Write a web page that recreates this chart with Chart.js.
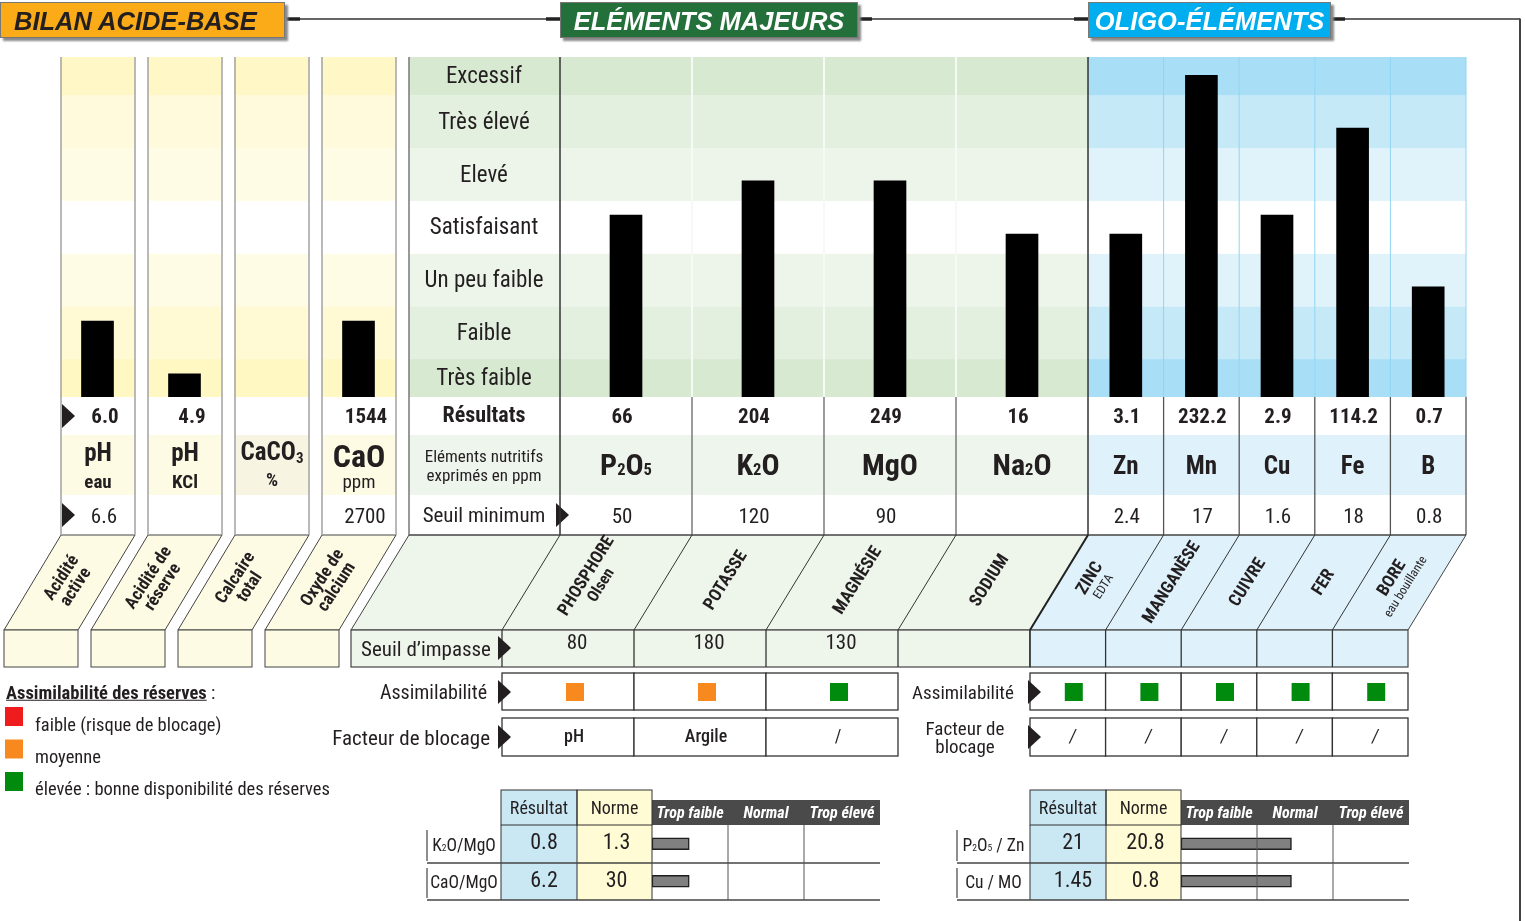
<!DOCTYPE html>
<html><head><meta charset="utf-8">
<script src="https://cdn.jsdelivr.net/npm/chart.js@4.4.1/dist/chart.umd.min.js"></script>
<style>
html,body{margin:0;padding:0;background:#fff}
#wrap{position:relative;width:1525px;height:921px;overflow:hidden;font-family:"Liberation Sans Narrow","Arial Narrow","Roboto Condensed","Liberation Sans",Arial,sans-serif;color:#231f20}
.t{position:absolute;white-space:nowrap;line-height:1;transform:translate(-50%,-50%);text-align:center;z-index:5}
.tl{position:absolute;white-space:nowrap;line-height:1;transform:translate(0,-50%);z-index:5}
.tr{position:absolute;white-space:nowrap;line-height:1;transform:translate(-100%,-50%);z-index:5;text-align:right}
canvas{position:absolute;z-index:2}
svg{position:absolute;left:0;top:0}
.title{position:absolute;height:36px;box-shadow:3px 3px 2px #8a8a8a;font-family:"Liberation Sans",Arial,sans-serif;font-weight:bold;font-style:italic;font-size:25.5px;line-height:36px;z-index:6;border:1px solid #777;box-sizing:border-box}
sub{font-size:0.6em;vertical-align:-0.25em;line-height:0}
.s{font-size:0.55em}
</style></head>
<body><div id="wrap">
<svg id="bg" width="1525" height="921" style="z-index:1"></svg>
<canvas id="cAcid" width="348" height="340" style="left:54px;top:57px"></canvas>
<canvas id="cMajor" width="528" height="340" style="left:560px;top:57px"></canvas>
<canvas id="cOligo" width="378" height="340" style="left:1088px;top:57px"></canvas>
<canvas id="cRatioA" width="229" height="75" style="left:651px;top:825px"></canvas>
<canvas id="cRatioB" width="228" height="75" style="left:1180px;top:825px"></canvas>
<svg id="fg" width="1525" height="921" style="z-index:4"></svg>
</div>
<script>
// ---------- DATA ----------
const levelNames = ['Très faible','Faible','Un peu faible','Satisfaisant','Elevé','Très élevé','Excessif'];
const levelBounds = [0, 0.72, 1.72, 2.72, 3.72, 4.72, 5.72, 6.45];

const acidNames = ['pH eau','pH KCl','CaCO3','CaO'];
const acidLevels = [1.44, 0.44, null, 1.44];
const acidResults = ['6.0','4.9','','1544'];
const acidSeuil = ['6.6','','','2700'];
const acidTitles = [['Acidité','active'],['Acidité de','réserve'],['Calcaire','total'],['Oxyde de','calcium']];

const majorNames = ['P<span class="s">2</span>O<span class="s">5</span>','K<span class="s">2</span>O','MgO','Na<span class="s">2</span>O'];
const majorLevels = [3.45, 4.10, 4.10, 3.09];
const majorResults = ['66','204','249','16'];
const majorSeuil = ['50','120','90',''];
const majorImpasse = ['80','180','130',''];
const majorAssim = ['moyenne','moyenne','élevée',null];
const majorBlocage = ['pH','Argile','/'];
const majorTitles = [['PHOSPHORE','Olsen'],['POTASSE',''],['MAGNÉSIE',''],['SODIUM','']];

const oligoNames = ['Zn','Mn','Cu','Fe','B'];
const oligoLevels = [3.09, 6.10, 3.45, 5.10, 2.09];
const oligoResults = ['3.1','232.2','2.9','114.2','0.7'];
const oligoSeuil = ['2.4','17','1.6','18','0.8'];
const oligoAssim = ['élevée','élevée','élevée','élevée','élevée'];
const oligoBlocage = ['/','/','/','/','/'];
const oligoTitles = [['ZINC','EDTA'],['MANGANÈSE',''],['CUIVRE',''],['FER',''],['BORE','eau bouillante']];

const ratioZones = ['Trop faible','Normal','Trop élevé'];
const ratioALabels = ['K<span class="s">2</span>O/MgO','CaO/MgO'];
const ratioAResult = ['0.8','6.2'];
const ratioANorme = ['1.3','30'];
const ratioAPos = [0.49, 0.49];
const ratioBLabels = ['P<span class="s">2</span>O<span class="s">5</span> / Zn','Cu / MO'];
const ratioBResult = ['21','1.45'];
const ratioBNorme = ['20.8','0.8'];
const ratioBPos = [1.46, 1.46];

const assimLegend = [['faible (risque de blocage)','faible'],['moyenne','moyenne'],['élevée : bonne disponibilité des réserves','élevée']];

// ---------- STYLE / LAYOUT ----------
const assimColors = {faible:'#ee1c1c', moyenne:'#f7891f', 'élevée':'#008a0e'};
const bandAcid = ['#fff8c3','#fffad3','#fffce6','#ffffff','#fffce6','#fffadb','#fff8c6'];
const bandMajor = ['#d8e9d2','#e3efdf','#edf5ea','#ffffff','#edf5ea','#e3efdf','#d8e9d2'];
const bandOligo = ['#a9def7','#c6e9f8','#e0f3fb','#ffffff','#e0f3fb','#c6e9f8','#a9def7'];
const Y0 = 397, YT = 57, unit = (Y0 - YT) / levelBounds[7];
const yPix = v => Y0 - v * unit;
const acidL = [61,148,235,322], acidW = 74;
const majX = i => 560 + 132 * i;
const olgX = i => 1088 + 75.6 * i;
const SH = 58; // slant shift

const wrap = document.getElementById('wrap');
function T(x, y, html, css, cls) {
  const d = document.createElement('div');
  d.className = cls || 't';
  d.style.left = x + 'px'; d.style.top = y + 'px';
  d.innerHTML = html;
  if (css) d.style.cssText += css;
  wrap.appendChild(d); return d;
}
let bg = '', fg = '';
const rect = (x,y,w,h,f,s,sw) => `<rect x="${x}" y="${y}" width="${w}" height="${h}" fill="${f||'none'}" stroke="${s||'none'}" stroke-width="${sw||1}"/>`;
const line = (x1,y1,x2,y2,s,sw) => `<line x1="${x1}" y1="${y1}" x2="${x2}" y2="${y2}" stroke="${s}" stroke-width="${sw||1}"/>`;
const poly = (pts,f,s,sw) => `<polygon points="${pts.map(p=>p.join(',')).join(' ')}" fill="${f||'none'}" stroke="${s||'none'}" stroke-width="${sw||1}"/>`;
const tri = (x,y) => poly([[x,y-12],[x,y+12],[x+13,y]],'#231f20');

// ---------- TITLES ----------
function title(x,w,txt,bgc,col){ const d=document.createElement('div'); d.className='title'; d.style.left=x+'px'; d.style.top='2px'; d.style.width=w+'px'; d.style.background=bgc; d.style.color=col; d.style.textAlign= x===0?'left':'center'; d.style.paddingLeft = x===0?'13px':'0'; d.textContent=txt; wrap.appendChild(d); }
title(0,285,'BILAN ACIDE-BASE','#fbab18','#231f20');
title(560,298,'ELÉMENTS MAJEURS','#23703a','#ffffff');
title(1088,243,'OLIGO-ÉLÉMENTS','#00aeef','#ffffff');
fg += line(286,19,561,19,'#333',1.3) + line(286,19,300,19,'#222',3.5) + line(546,19,561,19,'#222',3.5);
fg += line(858,19,1088,19,'#333',1.3) + line(858,19,872,19,'#222',3.5) + line(1074,19,1088,19,'#222',3.5);
fg += line(1331,19,1520,19,'#333',1.3) + line(1331,19,1345,19,'#222',3.5) + line(1520,18.4,1520,921,'#444',2);

// ---------- LABEL COLUMN ----------
for (let b = 0; b < 7; b++) {
  bg += rect(409, yPix(levelBounds[b+1]), 151, yPix(levelBounds[b]) - yPix(levelBounds[b+1]), bandMajor[b]);
  T(484, (yPix(levelBounds[b]) + yPix(levelBounds[b+1]))/2 - 1, levelNames[b], 'font-size:23px');
}

// ---------- TABLE ROWS ----------
acidL.forEach((x,i)=>{ bg += rect(x,435,acidW,60, i===2?'#f7f4e1':'#fefbe4'); });
bg += rect(409,435,679,60,'#eef5ec');
bg += rect(1088,435,378,60,'#dff1fb');
acidL.forEach((x,i)=>{
  const c = x + acidW/2;
  fg += line(x,57,x,535,'#a8a8a8',1.6) + line(x+acidW,57,x+acidW,535,'#a8a8a8',1.6);
  if (acidResults[i]) T(c+7, 416, acidResults[i], 'font-size:21px;font-weight:bold');
  if (acidSeuil[i]) T(c+6, 516, acidSeuil[i], 'font-size:21px');
  bg += poly([[x,535],[x+acidW,535],[x+acidW-SH+1,630],[x-SH+1,630]],'#fefbe4','#444',1);
  bg += rect(x-SH+1,630,acidW,37,'#fefbe4','#444',1);
  T(c - SH/2 - 1, 582, `<b>${acidTitles[i][0]}<br>${acidTitles[i][1]}</b>`, 'font-size:17.5px;line-height:17px;transform:translate(-50%,-50%) rotate(-57deg)');
});
fg += tri(62,416) + tri(62,515);
T(98,452,'pH','font-size:25px;font-weight:bold'); T(98,481,'eau','font-size:19px;font-weight:bold');
T(185,452,'pH','font-size:25px;font-weight:bold'); T(185,481,'KCl','font-size:19px;font-weight:bold');
T(272,451,'CaCO<sub>3</sub>','font-size:25px;font-weight:bold'); T(272,479,'%','font-size:19px;font-weight:bold');
T(359,456,'CaO','font-size:32px;font-weight:bold'); T(359,481,'ppm','font-size:19px');

T(484,415,'Résultats','font-size:22px;font-weight:bold');
T(484,466,'Eléments nutritifs<br>exprimés en ppm','font-size:17px;line-height:19px');
T(484,515,'Seuil minimum','font-size:21px');
fg += tri(556,515);
fg += line(409,57,409,535,'#777',1.5);

for (let i = 0; i < 4; i++) {
  const c = majX(i) + 66;
  T(c - 4, 416, majorResults[i], 'font-size:21px;font-weight:bold');
  T(c, 465, majorNames[i], 'font-size:30px;font-weight:bold');
  if (majorSeuil[i]) T(c - 4, 516, majorSeuil[i], 'font-size:21px');
}
for (let i = 1; i < 4; i++) { fg += line(majX(i),57,majX(i),397,'#f6faf4',2) + line(majX(i),397,majX(i),535,'#666',1.3); }
fg += line(560,57,560,535,'#333',1.5) + line(1088,57,1088,535,'#333',1.5);

for (let i = 0; i < 5; i++) {
  const c = olgX(i) + 37.8;
  T(c + 1, 416, oligoResults[i], 'font-size:21px;font-weight:bold');
  T(c, 465, oligoNames[i], 'font-size:25px;font-weight:bold');
  T(c + 1, 516, oligoSeuil[i], 'font-size:21px');
}
for (let i = 1; i < 5; i++) { fg += line(olgX(i),57,olgX(i),397,'#8fd4f2',1) + line(olgX(i),397,olgX(i),535,'#555',1.3); }
fg += line(1466,57,1466,397,'#8fd4f2',1) + line(1466,397,1466,535,'#555',1.3);
fg += line(409,535,1466,535,'#444',1.2);

bg += poly([[409,535],[1088,535],[1088-SH,630],[409-SH,630]],'#eef6ec','#444',1);
bg += poly([[1088,535],[1466,535],[1466-SH,630],[1088-SH,630]],'#dff1fb','#444',1);
for (let i = 0; i < 4; i++) fg += line(majX(i),535,majX(i)-SH,630,'#333',1);
for (let i = 1; i < 5; i++) fg += line(olgX(i),535,olgX(i)-SH,630,'#333',1);
fg += line(1088,535,1088-SH,630,'#222',2);
majorTitles.forEach((tt,i)=>{
  const cx = majX(i) + 66 - SH/2 - 4;
  T(cx, 580, `<b>${tt[0]}</b>${tt[1]?'<br><b style="font-size:16px">'+tt[1]+'</b>':''}`, 'font-size:17.5px;line-height:17px;transform:translate(-50%,-50%) rotate(-58deg)');
});
oligoTitles.forEach((tt,i)=>{
  const cx = olgX(i) + 37.8 - SH/2 - 1;
  T(cx, 582, `<b>${tt[0]}</b>${tt[1]?'<br><span style="font-size:12.5px">'+tt[1]+'</span>':''}`, 'font-size:17.5px;line-height:15px;transform:translate(-50%,-50%) rotate(-58deg)');
});

bg += rect(409-SH,630,1088-409,37,'#eef6ec','#444',1.2);
bg += rect(1088-SH,630,378,37,'#dff1fb','#444',1.2);
for (let i = 0; i < 5; i++) fg += line(majX(i)-SH,630,majX(i)-SH,667,'#333',1.3);
for (let i = 1; i < 5; i++) fg += line(olgX(i)-SH,630,olgX(i)-SH,667,'#333',1.3);
T(426,649,"Seuil d’impasse",'font-size:21px');
fg += tri(498,648);
majorImpasse.forEach((v,i)=>{ if(v) T(majX(i)-SH+66+9, 642, v, 'font-size:21px'); });

function cellsRow(x0, n, w, y, h) { let s=''; for(let i=0;i<n;i++) s += rect(x0+i*w, y, w, h, '#fff', '#333', 1.3); return s; }
bg += cellsRow(502, 3, 132, 673, 37) + cellsRow(1030, 5, 75.6, 673, 37);
bg += cellsRow(502, 3, 132, 718, 38) + cellsRow(1030, 5, 75.6, 718, 38);
T(487,692,'Assimilabilité','font-size:20px','tr');
T(490,738,'Facteur de blocage','font-size:21px','tr');
fg += tri(498,692) + tri(498,737);
T(963,692,'Assimilabilité','font-size:19px');
T(965,738,'Facteur de<br>blocage','font-size:19px;line-height:18px');
fg += tri(1028,692) + tri(1028,737);
majorAssim.forEach((a,i)=>{ if(a) fg += rect(majX(i)-SH+66+7-9, 683, 18, 18, assimColors[a]); });
oligoAssim.forEach((a,i)=>{ if(a) fg += rect(olgX(i)-SH+37.8+6-9, 683, 18, 18, assimColors[a]); });
majorBlocage.forEach((v,i)=>{ T(majX(i)-SH+66+6, 736, v, 'font-size:18px;'+(v==='/'?'':'font-weight:500')); });
oligoBlocage.forEach((v,i)=>{ T(olgX(i)-SH+37.8+5, 736, v, 'font-size:18px;font-style:italic'); });

T(6,693,'<span style="font-weight:bold;text-decoration:underline">Assimilabilité des réserves</span> :','font-size:18.5px','tl');
assimLegend.forEach((l,i)=>{
  fg += rect(5, 707 + i*32.5, 18, 19, assimColors[l[1]]);
  T(35, 725 + i*32, l[0], 'font-size:18.5px', 'tl');
});

// ---------- RATIO TABLES ----------
function ratioTable(xl, xr, xn, xb, labels, res, norm) {
  const xe = xb + 228;
  bg += rect(xr,790,xn-xr,110,'#c9e8f4') + rect(xn,790,xb-xn,110,'#fffbd5');
  bg += rect(xb,800,xe-xb,25,'#4a4a4a');
  fg += rect(xr,790,xn-xr,35,'none','#333',1) + rect(xn,790,xb-xn,35,'none','#333',1);
  fg += line(xr,825,xr,900,'#333',1) + line(xn,825,xn,900,'#333',1) + line(xb,825,xb,900,'#333',1);
  fg += line(xl,863,xe,863,'#444',1.3) + line(xl,900,xe,900,'#444',1.3);
  fg += line(xl,830,xl,861,'#444',1.2) + line(xl,868,xl,898,'#444',1.2);
  fg += line(xb+76,825,xb+76,900,'#555',1) + line(xb+152,825,xb+152,900,'#555',1);
  T((xr+xn)/2, 808, 'Résultat', 'font-size:18px');
  T((xn+xb)/2, 808, 'Norme', 'font-size:18px');
  ratioZones.forEach((z,k)=> T(xb+38+76*k, 813, z, 'font-size:16px;font-weight:bold;font-style:italic;color:#fff'));
  labels.forEach((l,k)=>{
    T((xl+xr)/2, 846+37*k, l, 'font-size:17.5px');
    T((xr+xn)/2+5, 842+38*k, res[k], 'font-size:22px');
    T((xn+xb)/2+2, 842+38*k, norm[k], 'font-size:22px');
  });
}
ratioTable(427, 501, 577, 652, ratioALabels, ratioAResult, ratioANorme);
ratioTable(957, 1030, 1106, 1181, ratioBLabels, ratioBResult, ratioBNorme);

document.getElementById('bg').innerHTML = bg;
document.getElementById('fg').innerHTML = fg;

// ---------- CHARTS ----------
function bandsPlugin(colW, inset, colors) {
  return { id: 'bands', beforeDatasetsDraw(chart) {
    const ctx = chart.ctx, xs = chart.scales.x, ys = chart.scales.y;
    ctx.save();
    chart.data.labels.forEach((_, i) => {
      const c = xs.getPixelForValue(i);
      for (let b = 0; b < 7; b++) {
        const y1 = ys.getPixelForValue(levelBounds[b+1]), y0 = ys.getPixelForValue(levelBounds[b]);
        ctx.fillStyle = colors[b];
        ctx.fillRect(c - colW/2 + inset, y1, colW - 2*inset, y0 - y1);
      }
    });
    ctx.restore();
  }};
}
function levelChart(id, labels, levels, colW, inset, colors) {
  return new Chart(document.getElementById(id), {
    type: 'bar',
    data: { labels: labels, datasets: [{ data: levels, backgroundColor: '#000', borderWidth: 0, barThickness: 32 }] },
    options: {
      responsive: false, animation: false, maintainAspectRatio: false,
      layout: { padding: 0 },
      scales: { x: { display: false }, y: { display: false, min: 0, max: levelBounds[7] } },
      plugins: { legend: { display: false }, tooltip: { enabled: false } }
    },
    plugins: [bandsPlugin(colW, inset, colors)]
  });
}
levelChart('cAcid', acidNames, acidLevels, 87, 6.5, bandAcid);
levelChart('cMajor', majorNames, majorLevels, 132, 0, bandMajor);
levelChart('cOligo', oligoNames, oligoLevels, 75.6, 0, bandOligo);

function ratioChart(id, labels, pos) {
  return new Chart(document.getElementById(id), {
    type: 'bar',
    data: { labels: labels, datasets: [{ data: pos, backgroundColor: '#808080', borderColor: '#1e1e1e', borderWidth: 1.5, borderSkipped: false, barThickness: 12 }] },
    options: {
      indexAxis: 'y', responsive: false, animation: false, maintainAspectRatio: false,
      layout: { padding: { left: 1, right: 0, top: 0, bottom: 0 } },
      scales: { x: { display: false, min: 0, max: 3 }, y: { display: false } },
      plugins: { legend: { display: false }, tooltip: { enabled: false } }
    }
  });
}
ratioChart('cRatioA', ratioALabels, ratioAPos);
ratioChart('cRatioB', ratioBLabels, ratioBPos);
</script>
</body></html>
